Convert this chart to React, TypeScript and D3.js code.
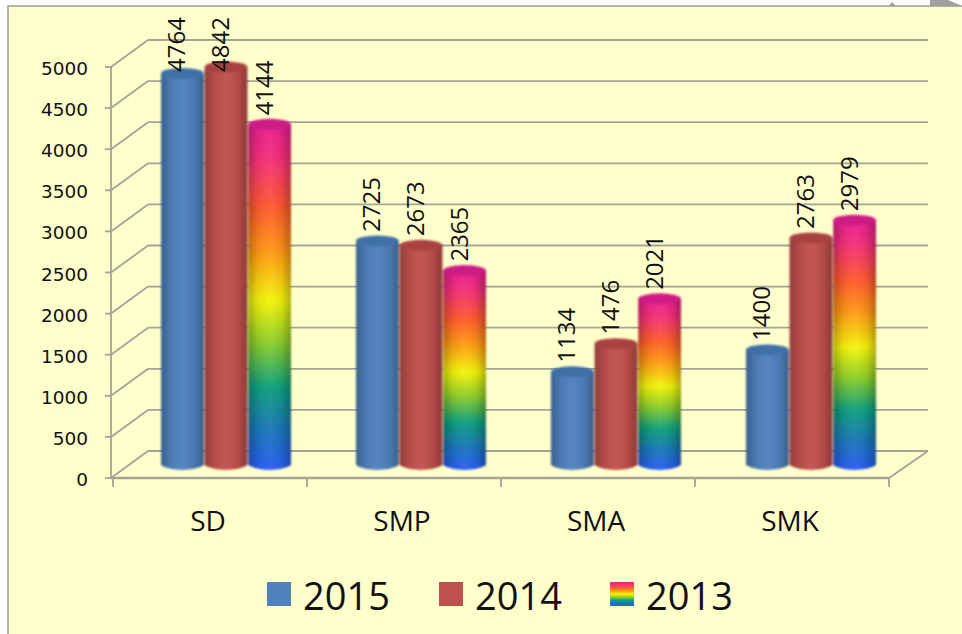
import { scaleBand, scaleLinear, path as d3path } from "d3";

const width = 962;
const height = 634;

const categories = ["SD", "SMP", "SMA", "SMK"];
const years = ["2015", "2014", "2013"];
const values2015 = [4764, 2725, 1134, 1400];
const values2014 = [4842, 2673, 1476, 2763];
const values2013 = [4144, 2365, 2021, 2979];
const yTicks = [0, 500, 1000, 1500, 2000, 2500, 3000, 3500, 4000, 4500, 5000];
const seriesValues = [values2015, values2014, values2013];

const rainbowStops = [
  ["0%", "#e81f8f"],
  ["10%", "#f5307a"],
  ["24%", "#ff5a2e"],
  ["37%", "#ff9a14"],
  ["51%", "#f4f40a"],
  ["63%", "#8fcf2a"],
  ["76%", "#0fa07e"],
  ["88%", "#1a78b8"],
  ["100%", "#2a5cf5"],
];
const fills = ["#4f81bd", "#c0504d", "url(#rainbow)"];
const capFills = ["#3f70a8", "#a8433f", "#cf1f85"];
const swatchFills = ["#4f81bd", "#c0504d", "url(#rainbowSwatch)"];
const legendX = [267, 439, 610];

const gridColor = "#a3a398";
const depthX = 37;
const depthY = 27;

const y = scaleLinear().domain([0, 5000]).range([478, 67]);
const xAxis = scaleBand().domain(categories).range([113, 889]);
// bars sit a little further apart than the axis ticks
const x0 = scaleBand().domain(categories).range([113, 893]);
const x1 = scaleBand().domain(years).range([48, 178]).paddingInner(0.02);

const cylinder = (cx: number, rx: number, top: number, bottom: number) => {
  const p = d3path();
  p.moveTo(cx - rx, top);
  p.lineTo(cx - rx, bottom);
  p.bezierCurveTo(cx - rx * 0.5, bottom + 6.5, cx + rx * 0.5, bottom + 6.5, cx + rx, bottom);
  p.lineTo(cx + rx, top);
  p.closePath();
  return p.toString();
};

export default function App() {
  const rx = x1.bandwidth() / 2;
  const baseY = y(0) - 13;
  return (
    <svg
      width={width}
      height={height}
      style={{ position: "fixed", left: 0, top: 0, background: "#fff" }}
      fontFamily="'Open Sans', sans-serif"
    >
      <defs>
        <linearGradient id="rainbow" x1="0" y1="0" x2="0" y2="1">
          {rainbowStops.map(([o, c]) => (
            <stop key={o} offset={o} stopColor={c} />
          ))}
        </linearGradient>
        <linearGradient id="rainbowSwatch" x1="0" y1="0" x2="0" y2="1">
          {rainbowStops.map(([o, c]) => (
            <stop key={o} offset={o} stopColor={c} />
          ))}
        </linearGradient>
        <linearGradient id="shade" x1="0" y1="0" x2="1" y2="0">
          <stop offset="0%" stopColor="#000" stopOpacity={0.26} />
          <stop offset="22%" stopColor="#000" stopOpacity={0.06} />
          <stop offset="50%" stopColor="#fff" stopOpacity={0.04} />
          <stop offset="78%" stopColor="#000" stopOpacity={0.06} />
          <stop offset="100%" stopColor="#000" stopOpacity={0.28} />
        </linearGradient>
        <filter id="soft" x="-10%" y="-10%" width="120%" height="120%">
          <feGaussianBlur stdDeviation="0.9" />
        </filter>
      </defs>

      <rect x={8} y={6} width={width} height={height} fill="#ffffcc" stroke="#9a9a9a" strokeWidth={1.5} />
      <polygon points="930,0 948,0 962,6 930,6" fill="#a0a0a0" />
      <polygon points="889,6 892,2 896,6" fill="#a0a0a0" />

      {/* walls */}
      <g stroke={gridColor} strokeWidth={1.8} fill="none">
        {yTicks.map((t) => (
          <g key={t}>
            <line x1={105} x2={111} y1={y(t)} y2={y(t)} />
            <line x1={111} x2={111 + depthX} y1={y(t)} y2={y(t) - depthY} />
            <line x1={111 + depthX} x2={928} y1={y(t) - depthY} y2={y(t) - depthY} />
          </g>
        ))}
        <line x1={111} x2={111} y1={y(5000)} y2={y(0)} />
        <line x1={889} x2={928} y1={y(0)} y2={y(0) - depthY} />
        <line x1={111} x2={889} y1={y(0)} y2={y(0)} strokeWidth={2.6} />
        {[...categories.map((c) => xAxis(c) as number), 889].map((v) => (
          <line key={v} x1={v} x2={v} y1={y(0)} y2={y(0) + 9} />
        ))}
      </g>

      {/* y axis labels */}
      <g fontFamily="'DejaVu Sans', sans-serif" fontSize={18.5} fill="#111" textAnchor="end">
        {yTicks.map((t) => (
          <text key={t} x={88} y={y(t) + 8}>
            {t}
          </text>
        ))}
      </g>

      {/* bars */}
      <g filter="url(#soft)">
        {categories.map((c, i) =>
          seriesValues.map((vals, s) => {
            const cx = (x0(c) as number) + (x1(years[s]) as number) + rx;
            const top = y(vals[i]) - 13;
            return (
              <g key={c + s}>
                <path d={cylinder(cx, rx, top, baseY)} fill={fills[s]} />
                <path d={cylinder(cx, rx, top, baseY)} fill="url(#shade)" />
                <ellipse cx={cx} cy={top} rx={rx} ry={5.5} fill={capFills[s]} />
              </g>
            );
          })
        )}
      </g>

      {/* value labels */}
      <g fontSize={24} fill="#111">
        {categories.map((c, i) =>
          seriesValues.map((vals, s) => {
            const cx = (x0(c) as number) + (x1(years[s]) as number) + rx;
            const labelY = Math.max(y(vals[i]) - 22, 72);
            return (
              <text key={c + s} transform={`translate(${cx + 3},${labelY}) rotate(-90)`}>
                {vals[i]}
              </text>
            );
          })
        )}
      </g>

      {/* category labels */}
      <g fontSize={28} fill="#111" textAnchor="middle">
        {categories.map((c) => (
          <text key={c} x={(xAxis(c) as number) + xAxis.bandwidth() / 2 - 2} y={531}>
            {c}
          </text>
        ))}
      </g>

      {/* legend */}
      {years.map((yr, s) => (
        <g key={yr}>
          <rect x={legendX[s]} y={582} width={24} height={24} fill={swatchFills[s]} />
          <text x={legendX[s] + 36} y={610} fontSize={38} fill="#111">
            {yr}
          </text>
        </g>
      ))}
    </svg>
  );
}
